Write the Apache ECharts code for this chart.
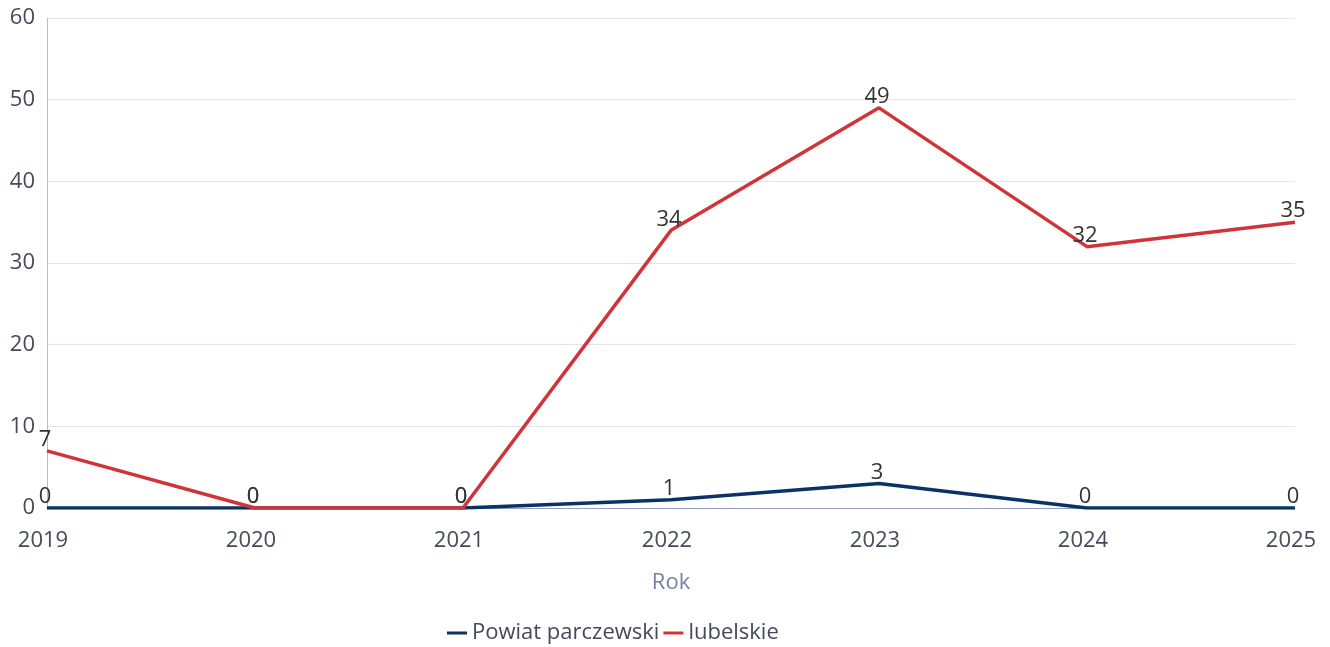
<!DOCTYPE html>
<html>
<head>
<meta charset="utf-8">
<script src="https://cdn.jsdelivr.net/npm/echarts@6/dist/echarts.min.js"></script>
<style>
  html, body { margin: 0; padding: 0; background: #fff; }
  #chart { width: 1330px; height: 647px; }
</style>
</head>
<body>
<div id="chart"></div>
<script>
  // dane z wykresu
  const years = ['2019', '2020', '2021', '2022', '2023', '2024', '2025']
  const powiatValues = [0, 0, 0, 1, 3, 0, 0]
  const lubelskieValues = [7, 0, 0, 34, 49, 32, 35]

  let chart = echarts.init(document.getElementById('chart'))

  let labelOpt = {
    show: true,
    position: 'top',
    distance: 0,
    padding: [0, 4, 0, 0],
    color: '#333',
    fontSize: 22,
    fontFamily: 'Open Sans'
  }

  chart.setOption({
    textStyle: {fontFamily: 'Open Sans'},
    grid: {left: 47, right: 35, top: 18, bottom: 139},
    legend: {
      bottom: 3,
      left: 447,
      padding: 0,
      itemWidth: 20,
      itemHeight: 3,
      itemGap: 4,
      icon: 'rect',
      textStyle: {fontSize: 22, color: '#444a5c', fontFamily: 'Open Sans'},
      data: ['Powiat parczewski', 'lubelskie']
    },
    xAxis: {
      type: 'category',
      boundaryGap: false,
      data: years,
      name: 'Rok',
      nameLocation: 'middle',
      nameGap: 64,
      nameTextStyle: {fontSize: 22, color: '#7a7fa6'},
      axisLine: {lineStyle: {color: '#9a9cc0', width: 1}},
      axisTick: {show: false},
      axisLabel: {fontSize: 22, color: '#444a5c', margin: 22, padding: [0, 8, 0, 0]}
    },
    yAxis: {
      type: 'value',
      min: 0,
      max: 60,
      interval: 10,
      axisLine: {show: true, lineStyle: {color: '#b8bad6', width: 1}},
      axisTick: {show: false},
      axisLabel: {fontSize: 22, color: '#444a5c', margin: 12, padding: [4, 0, 0, 0]},
      splitLine: {lineStyle: {color: '#e3e4ef'}}
    },
    series: [
      {
        name: 'Powiat parczewski',
        type: 'line',
        data: powiatValues,
        symbol: 'circle',
        symbolSize: 0,
        color: '#0b3264',
        lineStyle: {width: 3.5},
        label: labelOpt
      },
      {
        name: 'lubelskie',
        type: 'line',
        data: lubelskieValues,
        symbol: 'circle',
        symbolSize: 0,
        color: '#d13438',
        lineStyle: {width: 3.5},
        label: labelOpt
      }
    ]
  })
</script>
</body>
</html>
